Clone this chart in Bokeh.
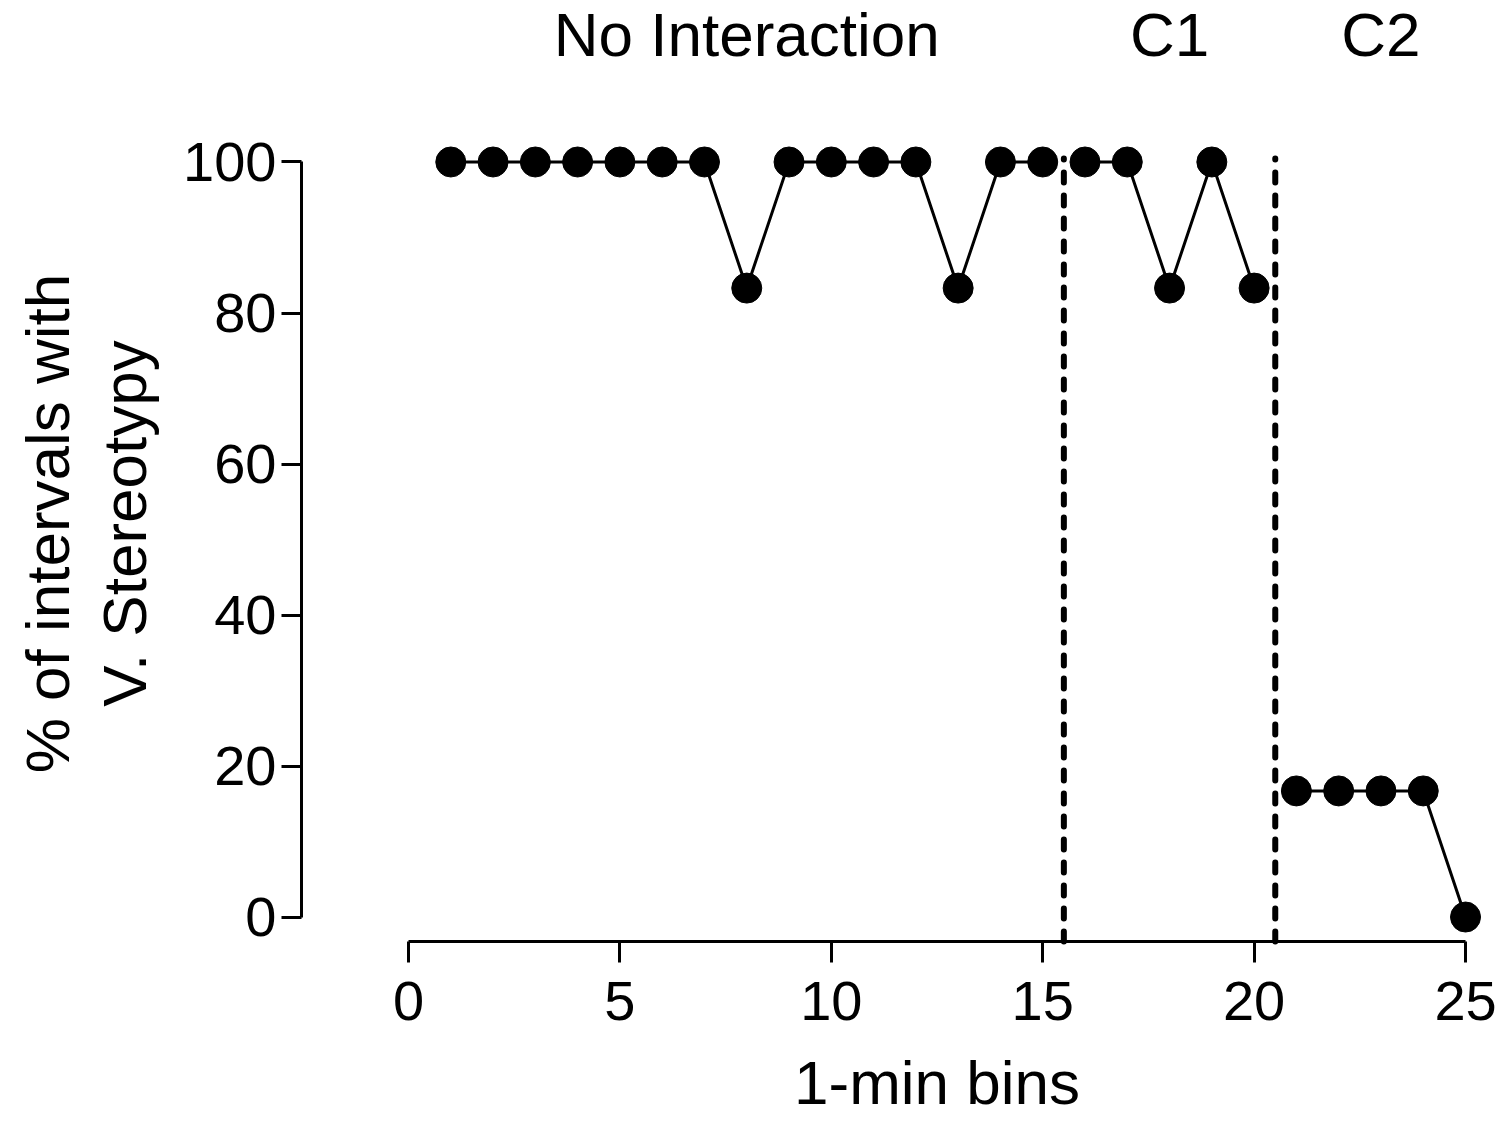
from bokeh.plotting import figure
from bokeh.models import Range1d, FixedTicker, ColumnDataSource
from bokeh.core.properties import value
from bokeh.embed import file_html
from bokeh.resources import INLINE

# ---- data ----
bins = list(range(1, 26))
pct = [100, 100, 100, 100, 100, 100, 100, 83.3, 100, 100, 100, 100, 83.3,
       100, 100, 100, 100, 83.3, 100, 83.3, 16.7, 16.7, 16.7, 16.7, 0]
phase_dividers = [15.5, 20.5]
phase_names = ["No Interaction", "C1", "C2"]
phase_centers = [8, 18, 23]
x_ticks = [0, 5, 10, 15, 20, 25]
y_ticks = [0, 20, 40, 60, 80, 100]
x_label = "1-min bins"
y_label_lines = ["% of intervals with", "V. Stereotypy"]

FONT = "Liberation Sans"

# the plotting frame covers the whole canvas; axes are drawn at fixed (detached) locations
X_AXIS_AT = -3.245   # y value where the x axis is drawn
Y_AXIS_AT = -2.531   # x value where the y axis is drawn

p = figure(width=1498, height=1120, output_backend="svg", toolbar_location=None,
           x_range=Range1d(-9.650, 25.780), y_range=Range1d(-26.95, 121.39),
           min_border=0)
p.outline_line_color = None
p.grid.visible = False
p.background_fill_color = "white"
p.border_fill_color = "white"

# dashed phase dividers
p.segment(x0=phase_dividers, x1=phase_dividers,
          y0=[X_AXIS_AT] * len(phase_dividers), y1=[100.46] * len(phase_dividers),
          line_color="black", line_width=6, line_dash="10 13", line_cap="round")

# data line, broken at the phase dividers
edges = [float("-inf")] + phase_dividers + [float("inf")]
xs, ys = [], []
for lo, hi in zip(edges[:-1], edges[1:]):
    idx = [i for i, b in enumerate(bins) if lo < b < hi]
    xs.append([bins[i] for i in idx])
    ys.append([pct[i] for i in idx])
p.multi_line(xs=xs, ys=ys, line_color="black", line_width=3)

src = ColumnDataSource(dict(x=bins, y=pct))
p.scatter("x", "y", source=src, size=30, fill_color="black", line_color="black")

# phase names
p.text(x=phase_centers, y=[116.85] * 3, text=phase_names,
       text_font=value(FONT), text_font_size="62px", text_align="center",
       text_baseline="alphabetic", text_color="black")

# axis titles (centred on the axis bounds)
p.text(x=[12.5], y=[-21.9], text=[x_label],
       text_font=value(FONT), text_font_size="62px", text_align="center",
       text_baseline="alphabetic", text_color="black")
p.text(x=[-8.54, -6.72], y=[52.12, 52.12], text=y_label_lines, angle=90,
       angle_units="deg", text_font=value(FONT), text_font_size="62px",
       text_align="center", text_baseline="alphabetic", text_color="black")

# axes
for ax in (p.xaxis, p.yaxis):
    ax.axis_line_width = 3
    ax.axis_line_color = "black"
    ax.major_tick_line_width = 3
    ax.major_tick_line_color = "black"
    ax.major_tick_in = 0
    ax.minor_tick_line_color = None
    ax.major_label_text_font = FONT
    ax.major_label_text_font_size = "56px"
    ax.major_label_text_color = "black"

p.xaxis.fixed_location = X_AXIS_AT
p.xaxis.bounds = (0, 25)
p.xaxis.ticker = FixedTicker(ticks=x_ticks)
p.xaxis.major_tick_out = 21
p.xaxis.major_label_standoff = 19

p.yaxis.fixed_location = Y_AXIS_AT
p.yaxis.bounds = (0, 100)
p.yaxis.ticker = FixedTicker(ticks=y_ticks)
p.yaxis.major_tick_out = 20
p.yaxis.major_label_standoff = 5

open("out.html", "w").write(file_html(p, INLINE))
